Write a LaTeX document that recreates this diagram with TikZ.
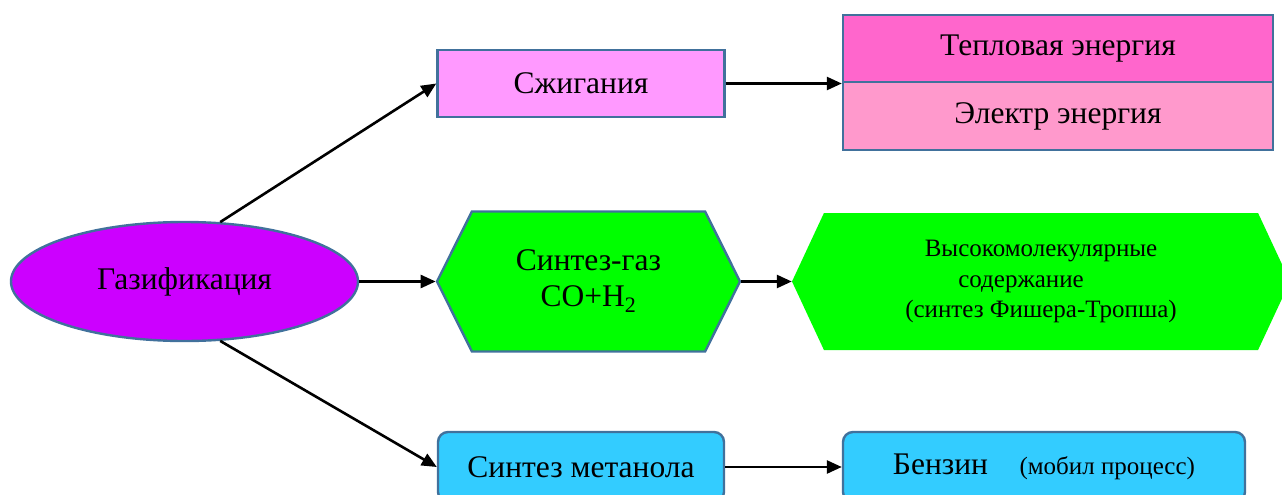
\documentclass[tikz,border=0pt]{standalone}
\usepackage{fontspec}
\setmainfont{Liberation Serif}
\usetikzlibrary{shapes.geometric,shapes.symbols,arrows.meta}

\definecolor{frame}{HTML}{41719C}
\definecolor{gasfill}{HTML}{CC00FF}
\definecolor{burnfill}{HTML}{FF99FF}
\definecolor{heatfill}{HTML}{FF66CC}
\definecolor{elecfill}{HTML}{FF99CC}
\definecolor{synfill}{HTML}{00FF00}
\definecolor{methfill}{HTML}{33CCFF}

\begin{document}
\begin{tikzpicture}[x=1pt,y=-1pt,
            big text/.style={font=\fontsize{31.5}{36}\selectfont},
            box node/.style={rectangle,draw=frame,line width=2.4pt,big text,inner sep=0pt},
            hex node/.style={signal,signal to=east and west,fill=synfill,big text,align=center,inner sep=0pt},
            round node/.style={box node,rounded corners=10pt,fill=methfill,minimum height=70},
            arrow/.style={line width=2.6pt,-{Triangle[length=15pt,width=13pt]}},
            ]
            \useasboundingbox (0,0) rectangle (1282,495);
            \def\midrow{281.5}

            \node[ellipse,draw=frame,line width=2.4pt,fill=gasfill,big text,minimum width=347,minimum height=119,inner sep=0pt] (gas) at (184.5,\midrow) {Газификация};

            \node[box node,fill=burnfill,minimum width=287,minimum height=67] (burn) at (581,83.5) {Сжигания};
            \node[box node,fill=heatfill,minimum width=430,minimum height=67] (heat) at (1058,48.5) {Тепловая энергия};
            \node[box node,fill=elecfill,minimum width=430,minimum height=68] (elec) at (1058,116) {Электр энергия};

            \node[hex node,draw=frame,line width=2.4pt,minimum width=303,minimum height=140,signal pointer angle=127] (syn) at (588.5,\midrow) {Синтез-газ\\CO+H\textsubscript{2}};
            \node[hex node,minimum width=498,minimum height=137,signal pointer angle=130,font=\fontsize{25}{30.5}\selectfont] (fischer) at (1041,\midrow) {Высокомолекулярные\\содержание\rule{40pt}{0pt}\\(синтез Фишера-Тропша)};

            \node[round node,minimum width=286] (meth) at (581,467) {Синтез метанола};
            \node[round node,minimum width=402] (benz) at (1044,467) {Бензин\quad{\fontsize{25}{28}\selectfont(мобил процесс)}};

            \draw[arrow] (gas.59) -- (burn.west);
            \draw[arrow] (gas.east) -- (syn.west);
            \draw[arrow] (gas.-59) -- (meth.west);
            \draw[arrow] (burn.east) -- (burn.east -| heat.west);
            \draw[arrow] (syn.east) -- (fischer.west);
            \draw[arrow] (meth.east) -- (benz.west);
        \end{tikzpicture}
\end{document}
